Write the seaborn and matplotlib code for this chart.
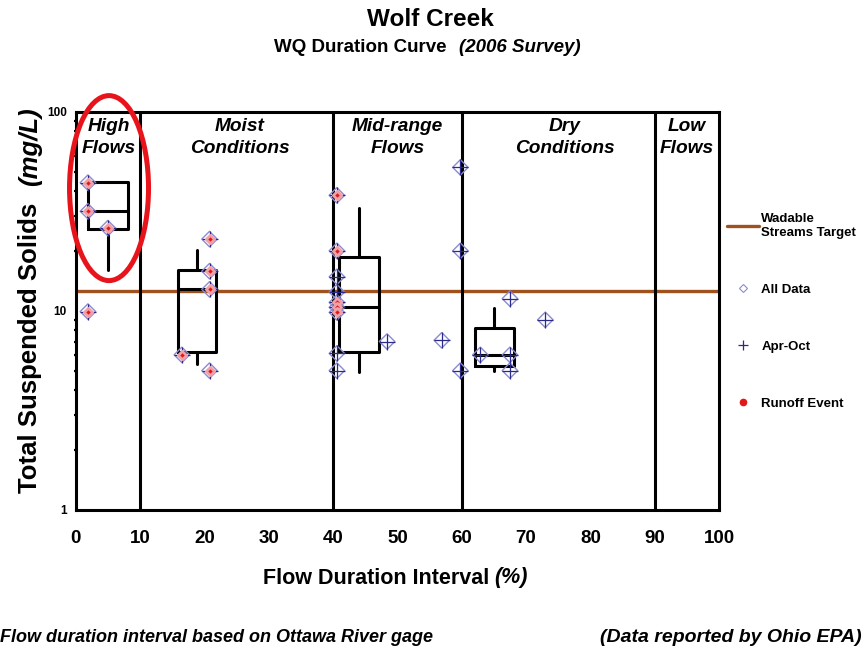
import numpy as np
import pandas as pd
import matplotlib
matplotlib.use("Agg")
import matplotlib.pyplot as plt
from matplotlib.lines import Line2D
from matplotlib.patches import Ellipse
import seaborn as sns

# Flow-regime zones along the duration curve (% of time flow is exceeded)
zone_edges = [10, 40, 60, 90]
zone_names = ["High\nFlows", "Moist\nConditions", "Mid-range\nFlows",
              "Dry\nConditions", "Low\nFlows"]
zone_label_x = [5.2, 25.5, 50.0, 76.0, 95.0]

# Wadable streams TSS target (mg/L)
target_tss = 12.5

# Individual 2006 samples
sample_interval = [1.9, 1.9, 1.9, 5.0,
                   16.5, 20.8, 20.8, 20.8, 20.8,
                   40.6, 40.6, 40.6, 40.6, 40.6, 40.6, 40.6, 40.6, 40.6,
                   48.4, 56.9, 59.8, 59.8, 59.8,
                   62.9, 67.5, 67.5, 67.5, 73.0]
sample_tss = [44.0, 31.6, 9.9, 26.0,
              6.0, 22.9, 15.8, 12.8, 5.0,
              38.0, 20.0, 14.8, 12.4, 11.0, 10.4, 9.8, 6.1, 5.0,
              7.0, 7.1, 52.5, 20.0, 5.0,
              6.0, 6.0, 5.0, 11.5, 9.0]
sample_runoff = ([True] * 4 + [True] * 5 +
                 [True, True, False, False, True, True, True, False, False] +
                 [False] * 5 + [False] * 5)

# Box summaries per flow zone
box_pos = [5.0, 18.8, 44.0, 65.1]
box_width = [6.3, 5.9, 6.2, 6.2]
box_lo = [16.1, 5.4, 4.9, 5.0]
box_q1 = [25.8, 6.2, 6.2, 5.25]
box_med = [31.6, 12.9, 10.4, 6.0]
box_q3 = [44.4, 16.0, 18.7, 8.2]
box_hi = [44.4, 20.2, 32.7, 10.3]

x_ticks = [0, 10, 20, 30, 40, 50, 60, 70, 80, 90, 100]
y_ticks = [1, 10, 100]

df = pd.DataFrame({"interval": sample_interval, "tss": sample_tss,
                   "runoff": sample_runoff})

sns.set_theme(style="white")
plt.rcParams["font.family"] = ["Liberation Sans", "DejaVu Sans"]
plt.rcParams["font.weight"] = "bold"
plt.rcParams["text.color"] = "black"
plt.rcParams["xtick.color"] = "black"
plt.rcParams["ytick.color"] = "black"
plt.rcParams["xtick.labelcolor"] = "black"
plt.rcParams["ytick.labelcolor"] = "black"

BROWN = "#a0521e"
DIAMOND = "#8c8cd0"
PLUS = "#2a2a8a"
RED = "#e01818"

fig = plt.figure(figsize=(8.65, 6.49), dpi=100)
ax = fig.add_axes([75.7 / 865, 1 - 509.7 / 649, 643.3 / 865, 398 / 649])

ax.set_yscale("log")
ax.set_xlim(0, 100)
ax.set_ylim(1, 100)

# target line and zone dividers
ax.axhline(target_tss, color=BROWN, lw=2.4, zorder=1)
for xe in zone_edges:
    ax.axvline(xe, color="black", lw=2.2, zorder=2)

# box summaries
stats = []
for lo, q1, med, q3, hi in zip(box_lo, box_q1, box_med, box_q3, box_hi):
    stats.append({"whislo": lo, "q1": q1, "med": med, "q3": q3,
                  "whishi": hi, "fliers": []})
lp = dict(color="black", lw=2.2)
ax.bxp(stats, positions=box_pos, widths=box_width, showcaps=False,
       showfliers=False, boxprops=lp, whiskerprops=lp, medianprops=lp,
       manage_ticks=False, zorder=3)

# samples: all data (diamond), Apr-Oct (+), runoff events (red)
sns.scatterplot(data=df, x="interval", y="tss", marker="D", s=62,
                facecolors="none", edgecolor=DIAMOND, linewidth=1.0,
                ax=ax, zorder=4, legend=False)
sns.scatterplot(data=df, x="interval", y="tss", marker="+", s=125,
                color=PLUS, linewidth=0.9, ax=ax, zorder=5, legend=False)
sns.scatterplot(data=df[df["runoff"]], x="interval", y="tss", marker="D",
                s=18, color=RED, edgecolor="#f2a0a8", linewidth=2.0,
                ax=ax, zorder=6, legend=False)

# zone labels
for xl, name in zip(zone_label_x, zone_names):
    ax.text(xl, 0.985, name, transform=ax.get_xaxis_transform(),
            ha="center", va="top", fontsize=13.8, fontweight="bold",
            fontstyle="italic", linespacing=1.42, zorder=7)

# highlight ring around the high-flow zone
ax.add_patch(Ellipse((0.0518, 0.808), 0.1228, 0.4648, transform=ax.transAxes,
                     fill=False, edgecolor="#e8141c", lw=3.6, clip_on=False,
                     zorder=8))

for sp in ax.spines.values():
    sp.set_color("black")
    sp.set_linewidth(2.2)
    sp.set_visible(True)

ax.set_xticks(x_ticks)
ax.set_xticklabels([str(t) for t in x_ticks])
ax.set_yticks(y_ticks)
ax.set_yticklabels([str(t) for t in y_ticks])
ax.tick_params(axis="x", which="major", direction="inout", length=11,
               width=2, color="black", pad=9, labelsize=13.5)
ax.tick_params(axis="y", which="major", direction="inout", length=7,
               width=2, color="black", pad=3, labelsize=8.5)
ax.tick_params(axis="y", which="minor", direction="inout", length=3,
               width=1.6, color="black", left=True)
for lab in ax.get_xticklabels() + ax.get_yticklabels():
    lab.set_fontweight("bold")
ax.set_xlabel("")
ax.set_ylabel("")
ax.grid(False)

# legend outside the plot area
handles = [
    Line2D([], [], color=BROWN, lw=2.4),
    Line2D([], [], ls="none", marker="D", ms=4, mfc="none", mec=DIAMOND,
           mew=0.8),
    Line2D([], [], ls="none", marker="+", ms=7, color=PLUS, mew=0.9),
    Line2D([], [], ls="none", marker="o", ms=4.5, color=RED),
]
labels = ["Wadable\nStreams Target", "All Data", "Apr-Oct", "Runoff Event"]
leg = fig.legend(handles, labels, loc="upper left",
                 bbox_to_anchor=(727 / 865, 1 - 213 / 649), frameon=False,
                 fontsize=9.5, handlelength=2.4, handletextpad=0.2,
                 labelspacing=3.4, borderaxespad=0, borderpad=0)
for t in leg.get_texts():
    t.set_fontweight("bold")
    t.set_color("black")

# titles
fig.text(430 / 865, 1 - 19 / 649, "Wolf Creek", ha="center", va="center",
         fontsize=17.5, fontweight="bold")
fig.text(447 / 865, 1 - 48 / 649, "WQ Duration Curve", ha="right",
         va="center", fontsize=13.5, fontweight="bold")
fig.text(459 / 865, 1 - 48 / 649, "(2006 Survey)", ha="left", va="center",
         fontsize=13.5, fontweight="bold", fontstyle="italic")

# axis labels
fig.text(489 / 865, 1 - 578 / 649, "Flow Duration Interval", ha="right",
         va="center", fontsize=15.5, fontweight="bold")
fig.text(494 / 865, 1 - 578 / 649, "(%)", ha="left", va="center",
         fontsize=15.5, fontweight="bold", fontstyle="italic")
fig.text(30 / 865, 1 - 493 / 649, "Total Suspended Solids", rotation=90,
         ha="center", va="bottom", fontsize=18.5, fontweight="bold")
fig.text(30 / 865, 1 - 107 / 649, "(mg/L)", rotation=90, ha="center",
         va="top", fontsize=18.5, fontweight="bold", fontstyle="italic")

# footnotes
fig.text(0.5 / 865, 1 - 637 / 649,
         "Flow duration interval based on Ottawa River gage", ha="left",
         va="center", fontsize=13, fontweight="bold", fontstyle="italic")
fig.text(862 / 865, 1 - 637 / 649, "(Data reported by Ohio EPA)",
         ha="right", va="center", fontsize=14, fontweight="bold",
         fontstyle="italic")

fig.savefig("out.png", dpi=100, facecolor="white")
